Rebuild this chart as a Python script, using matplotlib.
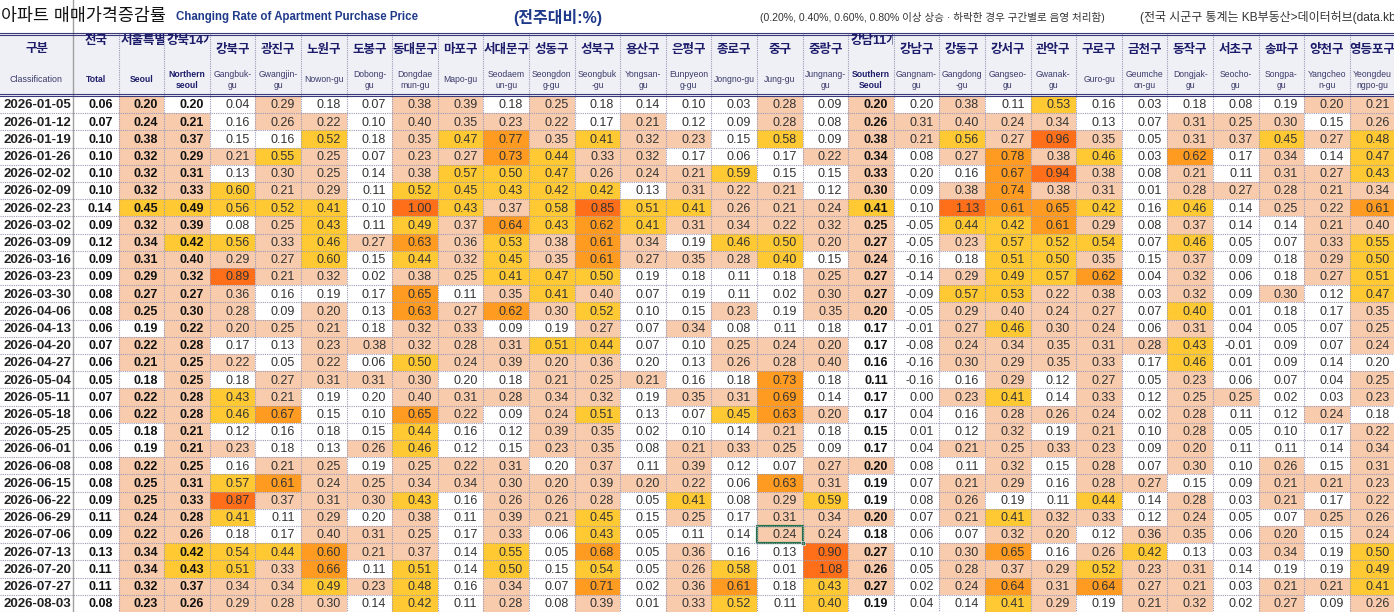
import matplotlib
matplotlib.use("Agg")
import matplotlib.pyplot as plt
from matplotlib.patches import Rectangle
from matplotlib.transforms import Bbox, TransformedBbox

plt.rcParams['font.family'] = ['Liberation Sans', 'Noto Sans CJK KR', 'DejaVu Sans']

# 날짜 (주간)
dates = ["2026-01-05", "2026-01-12", "2026-01-19", "2026-01-26", "2026-02-02", "2026-02-09",
         "2026-02-23", "2026-03-02", "2026-03-09", "2026-03-16", "2026-03-23", "2026-03-30",
         "2026-04-06", "2026-04-13", "2026-04-20", "2026-04-27", "2026-05-04", "2026-05-11",
         "2026-05-18", "2026-05-25", "2026-06-01", "2026-06-08", "2026-06-15", "2026-06-22",
         "2026-06-29", "2026-07-06", "2026-07-13", "2026-07-20", "2026-07-27", "2026-08-03"]

# 컬럼명
north_names_kr = ["강북구", "광진구", "노원구", "도봉구", "동대문구", "마포구", "서대문구",
                  "성동구", "성북구", "용산구", "은평구", "종로구", "중구", "중랑구"]
north_names_en = ["Gangbuk-\ngu", "Gwangjin-\ngu", "Nowon-gu", "Dobong-\ngu", "Dongdae\nmun-gu",
                  "Mapo-gu", "Seodaem\nun-gu", "Seongdon\ng-gu", "Seongbuk\n-gu", "Yongsan-\ngu",
                  "Eunpyeon\ng-gu", "Jongno-gu", "Jung-gu", "Jungnang-\ngu"]
south_names_kr = ["강남구", "강동구", "강서구", "관악구", "구로구", "금천구", "동작구",
                  "서초구", "송파구", "양천구", "영등포구"]
south_names_en = ["Gangnam-\ngu", "Gangdong\n-gu", "Gangseo-\ngu", "Gwanak-\ngu", "Guro-gu",
                  "Geumche\non-gu", "Dongjak-\ngu", "Seocho-\ngu", "Songpa-\ngu", "Yangcheo\nn-gu",
                  "Yeongdeu\nngpo-gu"]

# 전국 / 서울 / 강북14개 / 강남11개
nation = [0.06, 0.07, 0.10, 0.10, 0.10, 0.10, 0.14, 0.09, 0.12, 0.09, 0.09, 0.08, 0.08, 0.06, 0.07,
          0.06, 0.05, 0.07, 0.06, 0.05, 0.06, 0.08, 0.08, 0.09, 0.11, 0.09, 0.13, 0.11, 0.11, 0.08]
seoul = [0.20, 0.24, 0.38, 0.32, 0.32, 0.32, 0.45, 0.32, 0.34, 0.31, 0.29, 0.27, 0.25, 0.19, 0.22,
         0.21, 0.18, 0.22, 0.22, 0.18, 0.19, 0.22, 0.25, 0.25, 0.24, 0.22, 0.34, 0.34, 0.32, 0.23]
north14 = [0.196, 0.21, 0.37, 0.29, 0.31, 0.33, 0.49, 0.39, 0.42, 0.396, 0.32, 0.27, 0.30, 0.22, 0.28,
           0.25, 0.25, 0.28, 0.28, 0.21, 0.21, 0.25, 0.31, 0.33, 0.28, 0.26, 0.42, 0.43, 0.37, 0.26]
south11 = [0.20, 0.26, 0.38, 0.34, 0.33, 0.30, 0.41, 0.25, 0.27, 0.24, 0.27, 0.27, 0.20, 0.17, 0.17,
           0.16, 0.11, 0.17, 0.17, 0.15, 0.17, 0.20, 0.19, 0.19, 0.20, 0.18, 0.27, 0.26, 0.27, 0.19]

# 강북 14개구 (행: 날짜)
north_gu = [
    [0.04, 0.29, 0.18, 0.07, 0.38, 0.39, 0.18, 0.25, 0.18, 0.14, 0.10, 0.03, 0.28, 0.09],
    [0.16, 0.26, 0.22, 0.10, 0.396, 0.35, 0.23, 0.22, 0.17, 0.21, 0.12, 0.09, 0.28, 0.08],
    [0.15, 0.16, 0.52, 0.18, 0.35, 0.47, 0.77, 0.35, 0.41, 0.32, 0.23, 0.15, 0.58, 0.09],
    [0.21, 0.55, 0.25, 0.07, 0.23, 0.27, 0.73, 0.44, 0.33, 0.32, 0.17, 0.06, 0.17, 0.22],
    [0.13, 0.30, 0.25, 0.14, 0.38, 0.57, 0.50, 0.47, 0.26, 0.24, 0.21, 0.59, 0.15, 0.15],
    [0.596, 0.21, 0.29, 0.11, 0.52, 0.45, 0.43, 0.42, 0.42, 0.13, 0.31, 0.22, 0.21, 0.12],
    [0.56, 0.52, 0.41, 0.10, 1.00, 0.43, 0.37, 0.58, 0.85, 0.51, 0.41, 0.26, 0.21, 0.24],
    [0.08, 0.25, 0.43, 0.11, 0.49, 0.37, 0.64, 0.43, 0.62, 0.41, 0.31, 0.34, 0.22, 0.32],
    [0.56, 0.33, 0.46, 0.27, 0.63, 0.36, 0.53, 0.38, 0.61, 0.34, 0.19, 0.46, 0.50, 0.20],
    [0.29, 0.27, 0.596, 0.15, 0.44, 0.32, 0.45, 0.35, 0.61, 0.27, 0.35, 0.28, 0.40, 0.15],
    [0.89, 0.21, 0.32, 0.02, 0.38, 0.25, 0.41, 0.47, 0.50, 0.19, 0.18, 0.11, 0.18, 0.25],
    [0.36, 0.16, 0.19, 0.17, 0.65, 0.11, 0.35, 0.41, 0.396, 0.07, 0.19, 0.11, 0.02, 0.30],
    [0.28, 0.09, 0.20, 0.13, 0.63, 0.27, 0.62, 0.30, 0.52, 0.10, 0.15, 0.23, 0.19, 0.35],
    [0.20, 0.25, 0.21, 0.18, 0.32, 0.33, 0.09, 0.19, 0.27, 0.07, 0.34, 0.08, 0.11, 0.18],
    [0.17, 0.13, 0.23, 0.38, 0.32, 0.28, 0.31, 0.51, 0.44, 0.07, 0.10, 0.25, 0.24, 0.20],
    [0.22, 0.05, 0.22, 0.06, 0.50, 0.24, 0.39, 0.20, 0.36, 0.196, 0.13, 0.26, 0.28, 0.396],
    [0.18, 0.27, 0.31, 0.31, 0.30, 0.196, 0.18, 0.21, 0.25, 0.21, 0.16, 0.18, 0.73, 0.18],
    [0.43, 0.21, 0.19, 0.196, 0.396, 0.31, 0.28, 0.34, 0.32, 0.19, 0.35, 0.31, 0.69, 0.14],
    [0.46, 0.67, 0.15, 0.10, 0.65, 0.22, 0.09, 0.24, 0.51, 0.13, 0.07, 0.45, 0.63, 0.20],
    [0.12, 0.16, 0.18, 0.15, 0.44, 0.16, 0.12, 0.39, 0.35, 0.02, 0.10, 0.14, 0.21, 0.18],
    [0.23, 0.18, 0.13, 0.26, 0.46, 0.12, 0.15, 0.23, 0.35, 0.08, 0.21, 0.33, 0.25, 0.09],
    [0.16, 0.21, 0.25, 0.19, 0.25, 0.22, 0.31, 0.196, 0.37, 0.11, 0.39, 0.12, 0.07, 0.27],
    [0.57, 0.61, 0.24, 0.25, 0.34, 0.34, 0.30, 0.20, 0.39, 0.20, 0.22, 0.06, 0.63, 0.31],
    [0.87, 0.37, 0.31, 0.30, 0.43, 0.16, 0.26, 0.26, 0.28, 0.05, 0.41, 0.08, 0.29, 0.59],
    [0.41, 0.11, 0.29, 0.196, 0.38, 0.11, 0.39, 0.21, 0.45, 0.15, 0.25, 0.17, 0.31, 0.34],
    [0.18, 0.17, 0.396, 0.31, 0.25, 0.17, 0.33, 0.06, 0.43, 0.05, 0.11, 0.14, 0.24, 0.24],
    [0.54, 0.44, 0.60, 0.21, 0.37, 0.14, 0.55, 0.05, 0.68, 0.05, 0.36, 0.16, 0.13, 0.90],
    [0.51, 0.33, 0.66, 0.11, 0.51, 0.14, 0.50, 0.15, 0.54, 0.05, 0.26, 0.58, 0.01, 1.08],
    [0.34, 0.34, 0.49, 0.23, 0.48, 0.16, 0.34, 0.07, 0.71, 0.02, 0.36, 0.61, 0.18, 0.43],
    [0.29, 0.28, 0.30, 0.14, 0.42, 0.11, 0.28, 0.08, 0.39, 0.01, 0.33, 0.52, 0.11, 0.40],
]

# 강남 11개구
south_gu = [
    [0.196, 0.38, 0.11, 0.53, 0.16, 0.03, 0.18, 0.08, 0.19, 0.20, 0.21],
    [0.31, 0.396, 0.24, 0.34, 0.13, 0.07, 0.31, 0.25, 0.30, 0.15, 0.26],
    [0.21, 0.56, 0.27, 0.96, 0.35, 0.05, 0.31, 0.37, 0.45, 0.27, 0.48],
    [0.08, 0.27, 0.78, 0.38, 0.46, 0.03, 0.62, 0.17, 0.34, 0.14, 0.47],
    [0.196, 0.16, 0.67, 0.94, 0.38, 0.08, 0.21, 0.11, 0.31, 0.27, 0.43],
    [0.09, 0.38, 0.74, 0.38, 0.31, 0.01, 0.28, 0.27, 0.28, 0.21, 0.34],
    [0.10, 1.13, 0.61, 0.65, 0.42, 0.16, 0.46, 0.14, 0.25, 0.22, 0.61],
    [-0.05, 0.44, 0.42, 0.61, 0.29, 0.08, 0.37, 0.14, 0.14, 0.21, 0.396],
    [-0.05, 0.23, 0.57, 0.52, 0.54, 0.07, 0.46, 0.05, 0.07, 0.33, 0.55],
    [-0.16, 0.18, 0.51, 0.50, 0.35, 0.15, 0.37, 0.09, 0.18, 0.29, 0.50],
    [-0.14, 0.29, 0.49, 0.57, 0.62, 0.04, 0.32, 0.06, 0.18, 0.27, 0.51],
    [-0.09, 0.57, 0.53, 0.22, 0.38, 0.03, 0.32, 0.09, 0.30, 0.12, 0.47],
    [-0.05, 0.29, 0.396, 0.24, 0.27, 0.07, 0.40, 0.01, 0.18, 0.17, 0.35],
    [-0.01, 0.27, 0.46, 0.30, 0.24, 0.06, 0.31, 0.04, 0.05, 0.07, 0.25],
    [-0.08, 0.24, 0.34, 0.35, 0.31, 0.28, 0.43, -0.01, 0.09, 0.07, 0.24],
    [-0.16, 0.30, 0.29, 0.35, 0.33, 0.17, 0.46, 0.01, 0.09, 0.14, 0.196],
    [-0.16, 0.16, 0.29, 0.12, 0.27, 0.05, 0.23, 0.06, 0.07, 0.04, 0.25],
    [0.00, 0.23, 0.41, 0.14, 0.33, 0.12, 0.25, 0.25, 0.02, 0.03, 0.23],
    [0.04, 0.16, 0.28, 0.26, 0.24, 0.02, 0.28, 0.11, 0.12, 0.24, 0.18],
    [0.01, 0.12, 0.32, 0.19, 0.21, 0.10, 0.28, 0.05, 0.10, 0.17, 0.22],
    [0.04, 0.21, 0.25, 0.33, 0.23, 0.09, 0.20, 0.11, 0.11, 0.14, 0.34],
    [0.08, 0.11, 0.32, 0.15, 0.28, 0.07, 0.30, 0.10, 0.26, 0.15, 0.31],
    [0.07, 0.21, 0.29, 0.16, 0.28, 0.27, 0.15, 0.09, 0.21, 0.21, 0.23],
    [0.08, 0.26, 0.19, 0.11, 0.44, 0.14, 0.28, 0.03, 0.21, 0.17, 0.22],
    [0.07, 0.21, 0.41, 0.32, 0.33, 0.12, 0.24, 0.05, 0.07, 0.25, 0.26],
    [0.06, 0.07, 0.32, 0.20, 0.12, 0.36, 0.35, 0.06, 0.20, 0.15, 0.24],
    [0.10, 0.30, 0.65, 0.16, 0.26, 0.42, 0.13, 0.03, 0.34, 0.19, 0.50],
    [0.05, 0.28, 0.37, 0.29, 0.52, 0.23, 0.31, 0.14, 0.19, 0.19, 0.49],
    [0.02, 0.24, 0.64, 0.31, 0.64, 0.27, 0.21, 0.03, 0.21, 0.21, 0.41],
    [0.04, 0.14, 0.41, 0.29, 0.19, 0.21, 0.32, 0.02, 0.27, 0.09, 0.26],
]

# 음영 구간 (0.20, 0.40, 0.60, 0.80 이상)
def shade(v):
    if v >= 0.80:
        return "#FF6F1A"
    if v >= 0.60:
        return "#FF9B21"
    if v >= 0.40:
        return "#FFC933"
    if v >= 0.20:
        return "#F8CBAD"
    return None

# 컬럼 구성: (한글명, 영문명, 값, 요약열 여부)
columns = [("전국", "Total", nation, True), ("서울특별시", "Seoul", seoul, True),
           ("강북14개구", "Northern\nseoul", north14, True)]
for j in range(len(north_names_kr)):
    columns.append((north_names_kr[j], north_names_en[j], [r[j] for r in north_gu], False))
columns.append(("강남11개구", "Southern\nSeoul", south11, True))
for j in range(len(south_names_kr)):
    columns.append((south_names_kr[j], south_names_en[j], [r[j] for r in south_gu], False))

W, H = 1394, 612
fig = plt.figure(figsize=(W / 100, H / 100), dpi=100)
ax = fig.add_axes([0, 0, 1, 1])
ax.set_xlim(0, W)
ax.set_ylim(H, 0)
ax.axis("off")

x0, cw = 73.0, 45.6      # 첫 데이터열 시작, 열 너비
y0, rh = 96.0, 17.2      # 첫 데이터행 시작, 행 높이
hdr_top = 34.0
navy = "#1C1C6B"
grid_c = "#9A9AB8"

# 제목
ax.text(1, 16, "아파트 매매가격증감률", fontsize=12.5, va="center", ha="left", color="#111111")
ax.text(176, 17, "Changing Rate of Apartment Purchase Price", fontsize=8.3, fontweight="bold",
        va="center", ha="left", color="#1F3A8A")
ax.text(513, 17, "(전주대비:%)", fontsize=11.5, fontweight="bold", va="center", ha="left", color="#1F3A8A")
ax.text(760, 17, "(0.20%, 0.40%, 0.60%, 0.80% 이상 상승 · 하락한 경우 구간별로 음영 처리함)",
        fontsize=7.6, va="center", ha="left", color="#333333")
ax.text(1140, 17, "(전국 시군구 통계는 KB부동산>데이터허브(data.kbland.kr)", fontsize=8.6,
        va="center", ha="left", color="#333333")

# 헤더 배경
ax.add_patch(Rectangle((0, hdr_top), W, y0 - hdr_top, facecolor="#EFF0F6", edgecolor="none"))

ax.text(x0 / 2, 49, "구분", fontsize=9, fontweight="bold", ha="center", va="center", color=navy)
ax.text(x0 / 2, 80, "Classification", fontsize=6.4, ha="center", va="center", color="#3A3A6A")

n_rows = len(dates)
for i, (kr, en, vals, summary) in enumerate(columns):
    left = x0 + i * cw
    clip = TransformedBbox(Bbox([[left + 0.5, 0], [left + cw - 0.5, H]]), ax.transData)
    ky = 41 if summary else 50
    if len(kr) > 4:
        t = ax.text(left + 2, ky, kr, fontsize=9, fontweight="bold", ha="left", va="center",
                    color=navy, clip_on=True)
    else:
        t = ax.text(left + cw / 2, ky, kr, fontsize=9, fontweight="bold", ha="center", va="center",
                    color=navy, clip_on=True)
    t.set_clip_box(clip)
    t = ax.text(left + cw / 2, 80, en, fontsize=6.2, ha="center", va="center",
                fontweight="bold" if summary else "normal",
                color=navy if summary else "#3A3A6A", linespacing=1.35, clip_on=True)
    t.set_clip_box(clip)

    for r, v in enumerate(vals):
        top = y0 + r * rh
        c = shade(v)
        if c:
            ax.add_patch(Rectangle((left, top), cw, rh, facecolor=c, edgecolor="none"))
        ax.text(left + cw - 6, top + rh / 2 + 0.8, f"{v:.2f}", fontsize=9, ha="right", va="center",
                fontweight="bold" if summary else "normal",
                color="#111111" if summary else "#333333")

# 날짜열
for r, d in enumerate(dates):
    ax.text(71, y0 + r * rh + rh / 2 + 0.8, d, fontsize=9.5, fontweight="bold", ha="right", va="center",
            color="#222222")

# 격자선 (점선)
n_cols = len(columns)
for i in range(1, n_cols):
    x = x0 + i * cw
    ax.plot([x, x], [hdr_top, H], color=grid_c, lw=0.8, ls=(0, (1, 1)))
for r in range(1, n_rows + 1):
    y = y0 + r * rh
    ax.plot([0, W], [y, y], color=grid_c, lw=0.8, ls=(0, (1, 1)))
ax.plot([x0, x0], [0, H], color="#A0A0A0", lw=1.0)

# 헤더 이중선
for y in (hdr_top - 1, hdr_top + 1, y0 - 2, y0):
    ax.plot([0, W], [y, y], color="#3A3A7A", lw=0.8)

# 선택된 셀 (2026-07-06, 중구)
sel_col = 3 + north_names_kr.index("중구")
sel_row = dates.index("2026-07-06")
ax.add_patch(Rectangle((x0 + sel_col * cw, y0 + sel_row * rh), cw, rh, facecolor="none",
                       edgecolor="#217346", lw=1.6))
ax.add_patch(Rectangle((x0 + (sel_col + 1) * cw - 2, y0 + (sel_row + 1) * rh - 2), 4, 4,
                       facecolor="#217346", edgecolor="white", lw=0.5))

fig.savefig("out.png", dpi=100)
